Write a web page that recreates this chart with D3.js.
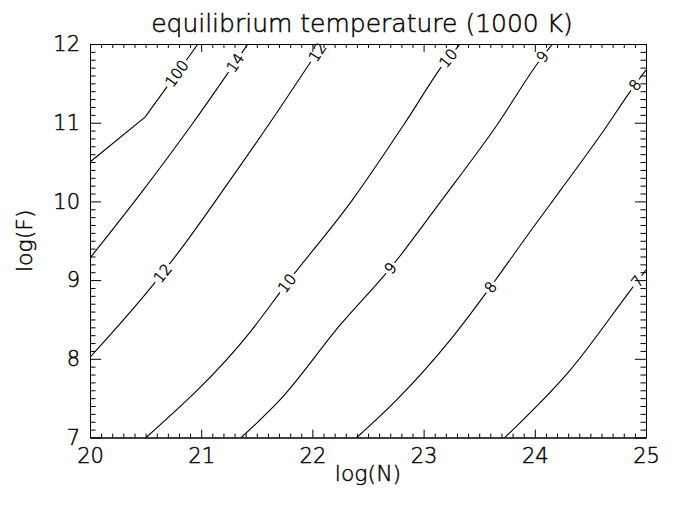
<!DOCTYPE html>
<html>
<head>
<meta charset="utf-8">
<script src="https://cdn.jsdelivr.net/npm/d3@7"></script>
<style>
  body { margin: 0; background: #fff; }
  svg { display: block; }
  text { font-family: "DejaVu Sans", sans-serif; font-weight: 200; fill: #000; stroke: #000; stroke-width: 0.45px; }
</style>
</head>
<body>
<svg id="chart" width="680" height="510"></svg>
<script>
// axis ranges + labelled ticks
var xDomain = [20, 25],
    yDomain = [7, 12],
    xMajor = [20, 21, 22, 23, 24, 25],
    yMajor = [7, 8, 9, 10, 11, 12];

// contour lines as [log(N), log(F)] points
var c100 = [[20, 10.50], [20.495, 11.07], [20.971, 12.0]];
var c14 = [[20, 9.28], [20.477, 10.14], [20.90, 10.945], [21.42, 12.0]];
var c12 = [[20, 8.02], [20.567, 8.94], [20.81, 9.38], [21.26, 10.27], [21.71, 11.19], [22.09, 12.0]];
var c10 = [[20.504, 7], [21.44, 8.34], [21.77, 8.96], [22.36, 10.02], [22.82, 10.97], [23.22, 11.82], [23.33, 12.0]];
var c9 = [[21.36, 7], [21.71, 7.48], [22.25, 8.43], [22.70, 9.15], [23.165, 10.02], [23.64, 10.93], [24.07, 11.84], [24.16, 12.0]];
var c8 = [[22.40, 7], [22.76, 7.48], [23.24, 8.24], [23.60, 8.91], [23.97, 9.64], [24.23, 10.14], [24.59, 10.84], [24.90, 11.48], [25.0, 11.67]];
var c7 = [[23.73, 7], [23.80, 7.095], [24.32, 7.86], [24.86, 8.87], [25.0, 9.13]];

// where each contour carries its label(s), [log(N), log(F)]
var lab100 = [[20.764, 11.644]];
var lab14 = [[21.30, 11.77]];
var lab12 = [[20.647, 9.09], [22.04, 11.90]];
var lab10 = [[21.77, 8.96], [23.22, 11.82]];
var lab9 = [[22.70, 9.15], [24.07, 11.84]];
var lab8 = [[23.60, 8.91], [24.90, 11.48]];
var lab7 = [[24.91, 9.0]];

var levels = ["100", "14", "12", "10", "9", "8", "7"];
var lines = [c100, c14, c12, c10, c9, c8, c7];
var labelPts = [lab100, lab14, lab12, lab10, lab9, lab8, lab7];

var svg = d3.select("#chart"),
    margin = { top: 44, right: 34, bottom: 72.5, left: 90 },
    width = 680 - margin.left - margin.right,
    height = 510 - margin.top - margin.bottom;

var x = d3.scaleLinear().domain(xDomain).range([margin.left, margin.left + width]);
var y = d3.scaleLinear().domain(yDomain).range([margin.top + height, margin.top]);

// IDL style tick lengths: 2% of the other plot dimension, minors half that
var xTickLen = 0.02 * height, yTickLen = 0.02 * width;
var xMinor = d3.range(200, 251).map(function (v) { return v / 10; }).filter(function (v) { return v % 1 !== 0; });
var yMinor = d3.range(70, 121).map(function (v) { return v / 10; }).filter(function (v) { return v % 1 !== 0; });

svg.append("defs").append("clipPath").attr("id", "plotclip")
    .append("rect").attr("x", margin.left).attr("y", margin.top).attr("width", width).attr("height", height);

function styleAxis(g, fs) {
    g.attr("font-family", null).attr("font-size", fs);
    g.selectAll("line").attr("stroke", "#000").attr("stroke-width", 1);
    g.selectAll("path").attr("stroke", "#000").attr("stroke-width", 1);
}

// bottom
svg.append("g").attr("transform", "translate(0," + (margin.top + height) + ")")
    .call(d3.axisBottom(x).tickValues(xMinor).tickSize(-xTickLen / 2).tickSizeOuter(0).tickFormat(""))
    .call(styleAxis, 21);
svg.append("g").attr("transform", "translate(0," + (margin.top + height) + ")")
    .call(d3.axisBottom(x).tickValues(xMajor).tickSize(-xTickLen).tickSizeOuter(0).tickPadding(10.5).tickFormat(d3.format("d")))
    .call(styleAxis, 21);
// top
svg.append("g").attr("transform", "translate(0," + margin.top + ")")
    .call(d3.axisTop(x).tickValues(xMinor).tickSize(-xTickLen / 2).tickSizeOuter(0).tickFormat(""))
    .call(styleAxis, 21);
svg.append("g").attr("transform", "translate(0," + margin.top + ")")
    .call(d3.axisTop(x).tickValues(xMajor).tickSize(-xTickLen).tickSizeOuter(0).tickFormat(""))
    .call(styleAxis, 21);
// left
svg.append("g").attr("transform", "translate(" + margin.left + ",0)")
    .call(d3.axisLeft(y).tickValues(yMinor).tickSize(-yTickLen / 2).tickSizeOuter(0).tickFormat(""))
    .call(styleAxis, 21);
svg.append("g").attr("transform", "translate(" + margin.left + ",0)")
    .call(d3.axisLeft(y).tickValues(yMajor).tickSize(-yTickLen).tickSizeOuter(0).tickPadding(10).tickFormat(d3.format("d")))
    .call(styleAxis, 21);
// right
svg.append("g").attr("transform", "translate(" + (margin.left + width) + ",0)")
    .call(d3.axisRight(y).tickValues(yMinor).tickSize(-yTickLen / 2).tickSizeOuter(0).tickFormat(""))
    .call(styleAxis, 21);
svg.append("g").attr("transform", "translate(" + (margin.left + width) + ",0)")
    .call(d3.axisRight(y).tickValues(yMajor).tickSize(-yTickLen).tickSizeOuter(0).tickFormat(""))
    .call(styleAxis, 21);

// contours
var plot = svg.append("g").attr("clip-path", "url(#plotclip)");
var labelLayer = svg.append("g");

lines.forEach(function (pts, i) {
    var line = d3.line()
        .x(function (d) { return x(d[0]); })
        .y(function (d) { return y(d[1]); })
        .curve(levels[i] === "100" ? d3.curveLinear : d3.curveMonotoneX);

    var path = plot.append("path")
        .attr("d", line(pts))
        .attr("fill", "none")
        .attr("stroke", "#000")
        .attr("stroke-width", 1.1);

    var node = path.node(),
        total = node.getTotalLength();

    // find position along the path nearest each label anchor
    var spots = labelPts[i].map(function (a) {
        var ax = x(a[0]), ay = y(a[1]), best = 0, bestD = Infinity;
        for (var L = 0; L <= total; L += 0.5) {
            var p = node.getPointAtLength(L),
                dd = (p.x - ax) * (p.x - ax) + (p.y - ay) * (p.y - ay);
            if (dd < bestD) { bestD = dd; best = L; }
        }
        return best;
    }).sort(function (a, b) { return a - b; });

    var dash = [], pos = 0;
    spots.forEach(function (L) {
        var t = labelLayer.append("text")
            .attr("font-size", 15)
            .attr("text-anchor", "middle")
            .attr("dy", "0.36em")
            .text(levels[i]);
        var w = t.node().getComputedTextLength() + 4;
        var p0 = node.getPointAtLength(Math.max(0, L - 3)),
            p1 = node.getPointAtLength(Math.min(total, L + 3)),
            pc = node.getPointAtLength(L),
            ang = Math.atan2(p1.y - p0.y, p1.x - p0.x) * 180 / Math.PI;
        if (ang > 90) ang -= 180;
        if (ang < -90) ang += 180;
        t.attr("transform", "translate(" + pc.x + "," + pc.y + ") rotate(" + ang + ")");

        var g0 = Math.max(0, L - w / 2);
        dash.push(Math.max(0, g0 - pos), w);
        pos = g0 + w;
    });
    dash.push(Math.max(0, total - pos) + 1, 1000);
    path.attr("stroke-dasharray", dash.join(" "));
});

// titles
svg.append("text")
    .attr("x", 362).attr("y", 32)
    .attr("text-anchor", "middle")
    .attr("font-size", 25)
    .text("equilibrium temperature (1000 K)");

svg.append("text")
    .attr("x", margin.left + width / 2).attr("y", 481)
    .attr("text-anchor", "middle")
    .attr("font-size", 22)
    .text("log(N)");

svg.append("text")
    .attr("transform", "translate(32," + (margin.top + height / 2) + ") rotate(-90)")
    .attr("text-anchor", "middle")
    .attr("font-size", 22)
    .text("log(F)");
</script>
</body>
</html>
